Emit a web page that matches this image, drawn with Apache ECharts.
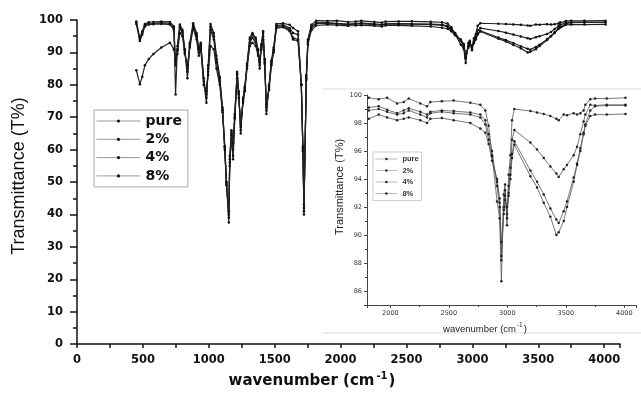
<!DOCTYPE html>
<html>
<head>
<meta charset="utf-8">
<script src="https://cdn.jsdelivr.net/npm/echarts@6/dist/echarts.min.js"></script>
<style>html,body{margin:0;padding:0;background:#fff;}#c{width:641px;height:394px;}</style>
</head>
<body>
<div id="c"></div>
<script>
const seriesNames = ['pure', '2%', '4%', '8%'];
const wavenumbers = [450,477,495,515,545,580,640,705,735,748,762,780,800,818,838,856,881,907,924,939,962,982,995,1013,1038,1058,1083,1104,1121,1134,1152,1159,1172,1184,1197,1215,1227,1242,1260,1273,1290,1311,1331,1356,1374,1386,1399,1412,1424,1437,1457,1475,1492,1513,1563,1614,1639,1677,1702,1714,1722,1740,1752,1778,
1815,1900,1972,2057,2114,2157,2256,2313,2342,2440,2541,2684,2769,2812,2840,2869,2912,2934,2949,2969,2980,2997,3011,3026,3040,3060,3197,3254,3311,3368,3419,3439,3482,3510,3567,3596,3624,3652,3667,3709,3750,3850,4010];
const pure = [99.5,94.5,96.5,98.8,99.3,99.4,99.5,99.4,98,77,92,98.6,97,91,82,93,99,96,91,93,81,74.5,86,98.8,96,89,82.5,73,61,50,37.5,58,66,62,71,84,78,65,76,79.5,86.5,94.5,96,94.5,91,85,92.5,96.5,88,71,80,87.5,91.5,98.8,99,98.5,97.5,96.5,80,61,40,83,94,98.5,
99.8,99.7,99.8,99.4,99.5,99.75,99.4,99.2,99.5,99.55,99.6,99.45,99.3,98.9,97.8,95.7,92.4,91.2,86.7,92.9,93.6,90.7,94.3,95.7,98.2,99.0,98.85,98.75,98.65,98.5,98.3,98.2,98.6,98.55,98.7,98.6,98.7,98.9,99.3,99.7,99.75,99.75,99.8];
const pct2 = [99.2,94,96,98.4,99,99,99.1,99,97.5,86,91,98,96.5,90.5,84,92.5,98.5,95.5,91.5,92.5,82,76,85,98,95,88,82,72.5,61,50,39,57,65.5,60,70.5,83.5,77.5,66,75.5,79,86,94,95.5,94,90.5,86,92,96,87.5,72,79.5,87,91,98.3,98.5,97.5,96,95.5,80,60.5,41,82.5,93.5,98,
99.1,99.2,98.95,98.7,98.9,99.05,98.8,98.6,98.8,98.9,98.85,98.75,98.6,98.2,97.2,96.0,93.5,92,88.2,92,93.2,91.2,93.5,94.8,96.8,97.5,96.6,96.1,95.5,94.9,94.4,94.15,94.7,95.0,95.7,96.3,97.2,98.1,98.6,99.3,99.25,99.3,99.3];
const pct4 = [98.8,93.5,95.5,98,98.6,98.7,98.8,98.6,97,87,90.5,97.5,96,90,85,92,98,95,90,92,80,77,84,97,94,87,81,72,60.5,49.5,40,56,65,58,70,83,77,67,75,78.5,85.5,93,94.5,93,89.5,87,91.5,95,87,73,79,86.5,90.5,98,98.2,97,94.5,94,80,60,42,82,93,97.5,
98.9,99.0,98.8,98.6,98.7,98.9,98.6,98.4,98.7,98.8,98.7,98.6,98.4,97.9,96.8,95.6,93.8,92.3,88.5,91.8,92.8,91.5,93,94.3,95.8,96.7,94.6,93.8,92.9,91.9,91.1,90.85,91.7,92.4,94.1,95.1,96.2,97.3,97.9,98.9,99.2,99.25,99.25];
const pct8 = [84.5,80.2,82.5,86,88,89.5,91.5,93,91,88,89.5,96,95,89.5,86,91.5,97.5,94,89,91,80,78,83,92,91,85,80,71.5,60,49,41,55,64.5,57,69.5,82,76,68,74.5,78,85,92,93,92,89,88,91,94,86.5,74,78.5,86,90,97.5,97.8,96.5,94,93.5,80,59.5,43,81.5,92.5,96.8,
98.3,98.6,98.4,98.2,98.3,98.4,98.2,98.0,98.3,98.35,98.2,98.0,97.6,97.3,96.5,95.3,94,92.6,89.5,91.5,92.5,92,92.8,94,95.5,96.45,94.2,93.4,92.3,91.3,90.0,90.2,91.0,92.0,93.8,95.0,96.0,97.2,97.8,98.5,98.6,98.6,98.65];
const insetStart = 1800;

const allValues = [pure, pct2, pct4, pct8];
const chart = echarts.init(document.getElementById('c'), null, {renderer: 'canvas'});
const plain = v => String(v);

const mainSeries = allValues.map((vals, i) => ({
  name: seriesNames[i], type: 'line', xAxisIndex: 0, yAxisIndex: 0,
  data: wavenumbers.map((w, j) => [w, vals[j]]),
  symbol: 'circle', symbolSize: 2.5, showAllSymbol: true,
  lineStyle: {width: 1.2, color: '#222'}, itemStyle: {color: '#111'},
  emphasis: {disabled: true}, animation: false
}));
const insetSeries = allValues.map((vals, i) => ({
  name: seriesNames[i], type: 'line', xAxisIndex: 1, yAxisIndex: 1,
  data: wavenumbers.map((w, j) => [w, vals[j]]).filter(p => p[0] >= insetStart),
  symbol: 'circle', symbolSize: 2.5, showAllSymbol: true,
  lineStyle: {width: 0.8, color: '#555'}, itemStyle: {color: '#222'},
  emphasis: {disabled: true}, animation: false
}));

const bigLabel = {fontFamily: 'DejaVu Sans', fontWeight: 'bold', fontSize: 11.5, color: '#111', formatter: plain};
const smallLabel = {fontFamily: 'DejaVu Sans', fontSize: 6.5, color: '#333', formatter: plain};

chart.setOption({
  animation: false,
  backgroundColor: '#fff',
  grid: [
    {left: 77, top: 20, right: 21, bottom: 40},
    {left: 367, top: 95, right: 5, bottom: 89}
  ],
  graphic: [
    {type: 'line', shape: {x1: 322, y1: 89, x2: 641, y2: 89}, style: {stroke: '#ddd', lineWidth: 1}, z: 0},
    {type: 'line', shape: {x1: 322, y1: 333, x2: 641, y2: 333}, style: {stroke: '#ddd', lineWidth: 1}, z: 0}
  ],
  legend: [
    {
      orient: 'vertical', left: 94, top: 110, data: seriesNames,
      itemWidth: 44, itemHeight: 4, itemGap: 4.3, padding: [4, 6, 4, 2],
      borderColor: '#aaa', borderWidth: 1,
      lineStyle: {color: '#999', width: 1}, itemStyle: {color: '#111'},
      textStyle: {fontFamily: 'DejaVu Sans', fontWeight: 'bold', fontSize: 14, color: '#111', lineHeight: 14}
    },
    {
      orient: 'vertical', left: 373, top: 152, data: seriesNames,
      itemWidth: 22, itemHeight: 3, itemGap: 3.5, padding: [3, 3, 3, 2],
      borderColor: '#ccc', borderWidth: 1,
      lineStyle: {color: '#aaa', width: 0.8}, itemStyle: {color: '#222'},
      textStyle: {fontFamily: 'Liberation Sans', fontWeight: 'bold', fontSize: 7.5, color: '#333', lineHeight: 8}
    }
  ],
  xAxis: [
    {
      type: 'value', gridIndex: 0, min: 0, max: 4120, interval: 500,
      axisLine: {lineStyle: {color: '#111', width: 1.5}},
      axisTick: {length: 4, lineStyle: {color: '#111', width: 1.5}},
      minorTick: {show: true, splitNumber: 2, length: 4, lineStyle: {color: '#111', width: 1.5}},
      splitLine: {show: false},
      axisLabel: Object.assign({margin: 10, showMaxLabel: false}, bigLabel),
      name: 'wavenumber (cm{sup|-1})', nameLocation: 'middle', nameGap: 26,
      nameTextStyle: {fontFamily: 'DejaVu Sans', fontWeight: 'bold', fontSize: 15, color: '#111', padding: [0, 73, 0, 0],
        rich: {sup: {fontFamily: 'DejaVu Sans', fontWeight: 'bold', fontSize: 10, color: '#111', padding: [0, 1, 11, 2]}}}
    },
    {
      type: 'value', gridIndex: 1, min: 1800, max: 4100, splitNumber: 5,
      axisLine: {lineStyle: {color: '#444', width: 1}},
      axisTick: {length: 3, lineStyle: {color: '#444'}},
      minorTick: {show: true, splitNumber: 2, length: 2, lineStyle: {color: '#444'}},
      splitLine: {show: false},
      axisLabel: Object.assign({margin: 5, showMinLabel: false, showMaxLabel: false}, smallLabel),
      name: 'wavenumber (cm{sup|-1})', nameLocation: 'middle', nameGap: 14,
      nameTextStyle: {fontFamily: 'Liberation Sans', fontSize: 9.5, color: '#222', padding: [0, 33, 0, 0],
        rich: {sup: {fontFamily: 'Liberation Sans', fontSize: 6.5, color: '#222', padding: [0, 1, 7, 1]}}}
    }
  ],
  yAxis: [
    {
      type: 'value', gridIndex: 0, min: 0, max: 100, interval: 10,
      axisLine: {show: true, lineStyle: {color: '#111', width: 1.5}},
      axisTick: {show: true, length: 7, lineStyle: {color: '#111', width: 1.5}},
      minorTick: {show: true, splitNumber: 2, length: 4, lineStyle: {color: '#111', width: 1.5}},
      splitLine: {show: false},
      axisLabel: Object.assign({margin: 14}, bigLabel),
      name: 'Transmittance (T%)', nameLocation: 'middle', nameGap: 41,
      nameTextStyle: {fontFamily: 'Liberation Sans', fontSize: 18, color: '#111', padding: [0, 0, 0, 12]}
    },
    {
      type: 'value', gridIndex: 1, min: 85, max: 100, splitNumber: 7,
      axisLine: {show: true, lineStyle: {color: '#444', width: 1}},
      axisTick: {show: true, length: 3, lineStyle: {color: '#444'}},
      minorTick: {show: true, splitNumber: 2, length: 2, lineStyle: {color: '#444'}},
      splitLine: {show: false},
      axisLabel: Object.assign({margin: 5, showMinLabel: false}, smallLabel),
      name: 'Transmittance (T%)', nameLocation: 'middle', nameGap: 21,
      nameTextStyle: {fontFamily: 'Liberation Sans', fontSize: 11, color: '#222', padding: [0, 0, 0, 26]}
    }
  ],
  series: mainSeries.concat(insetSeries)
});
</script>
</body>
</html>
